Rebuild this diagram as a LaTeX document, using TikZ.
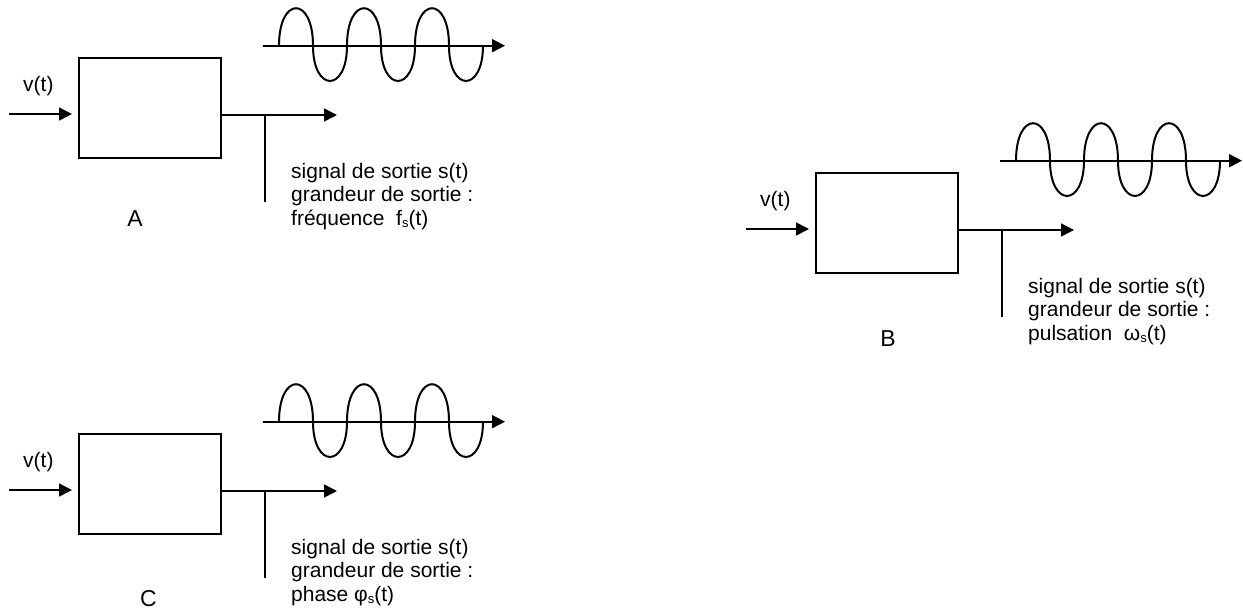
\documentclass[tikz,border=0pt]{standalone}
\usepackage{fontspec}
\setmainfont{Liberation Sans}
\usetikzlibrary{arrows.meta}
\newcommand\mysub{\raisebox{-2.5pt}{\fontsize{13}{13}\selectfont s}}
\begin{document}
\begin{tikzpicture}[x=1pt,y=-1pt,
  every node/.style={font=\fontsize{21}{25}\selectfont, inner sep=0pt},
  blockbox/.style={draw, line width=2pt, minimum width=142pt, minimum height=100pt, anchor=north west},
  conn/.style={line width=1.6pt, -{Triangle[length=13pt,width=13pt]}},
  axisline/.style={line width=2pt, -{Triangle[length=13pt,width=13pt]}},
  wave/.style={line width=2pt},
  stem/.style={line width=2.6pt},
  txt/.style={anchor=base west},
  tag/.style={font=\fontsize{23}{27}\selectfont}]
\useasboundingbox (0,0) rectangle (1243,611);
\foreach \n/\dx/\dy/\lx/\ly/\qty in {
  A/0/0/135/218.5/{fréquence\ \ f\mysub(t)},
  B/737/115/151/223.5/{pulsation\ \ ω\mysub(t)},
  C/0/376/148.5/222.5/{phase φ\mysub(t)}}{
\begin{scope}[shift={(\dx,\dy)}]
  \node[blockbox] (box\n) at (78,57) {};
  \coordinate (in\n) at (9,114);
  \draw[conn, shorten >=6pt] (in\n) -- (in\n -| box\n.west);
  \coordinate (out\n) at (337,115);
  \draw[conn] (out\n -| box\n.east) -- (out\n);
  \coordinate (tee\n) at (265,115);
  \coordinate (foot\n) at (265,202);
  \draw[stem] (tee\n) -- (foot\n);
  \coordinate (axa\n) at (263,45.7);
  \coordinate (axb\n) at (505,45.7);
  \draw[axisline] (axa\n) -- (axb\n);
  \draw[wave] (279,45.7)
     .. controls +(0,-50) and +(0,-50) .. ++(34,0)
     .. controls +(0,47) and +(0,47) .. ++(34,0)
     .. controls +(0,-50) and +(0,-50) .. ++(34,0)
     .. controls +(0,47) and +(0,47) .. ++(34,0)
     .. controls +(0,-50) and +(0,-50) .. ++(34,0)
     .. controls +(0,47) and +(0,47) .. ++(34,0);
  \node[txt] (vin\n) at (23,91) {v(t)};
  \node[tag] (lbl\n) at (\lx,\ly) {\n};
  \node[txt] (ta\n) at (291,178) {signal de sortie s(t)};
  \node[txt] (tb\n) at (291,201.5) {grandeur de sortie :};
  \node[txt] (tc\n) at (291,225) {\qty};
\end{scope}}
\end{tikzpicture}
\end{document}
